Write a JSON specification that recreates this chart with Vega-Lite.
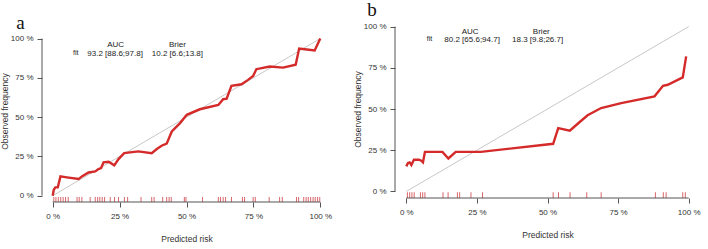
{
  "$schema": "https://vega.github.io/schema/vega-lite/v6.json",
  "padding": {"left": 0, "top": 1, "right": 0, "bottom": 0},
  "spacing": 21,
  "config": {
    "view": {"stroke": null},
    "font": "Liberation Sans",
    "axis": {
      "domain": false,
      "grid": false,
      "ticks": true,
      "tickSize": 5,
      "tickColor": "#555555",
      "labelFont": "Liberation Sans",
      "labelFontSize": 8,
      "labelColor": "#333333",
      "titleFont": "Liberation Sans",
      "titleFontSize": 8.5,
      "titleFontWeight": "normal",
      "titleColor": "#333333",
      "labelExpr": "format(datum.value * 100, 'd') + ' %'"
    },
    "axisX": {"labelPadding": 5, "titlePadding": 14},
    "axisY": {"labelPadding": 4, "titlePadding": 1},
    "title": {"font": "Liberation Serif", "fontWeight": "normal", "fontSize": 19, "anchor": "start", "color": "#111111"}
  },
  "datasets": {
    "diag": [{"x": 0, "y": 0}, {"x": 1, "y": 1}],
    "calA": [
      {"x": 0, "y": 0}, {"x": 0.004, "y": 0.038}, {"x": 0.01, "y": 0.053}, {"x": 0.019, "y": 0.053},
      {"x": 0.029, "y": 0.123}, {"x": 0.053, "y": 0.117}, {"x": 0.097, "y": 0.106}, {"x": 0.109, "y": 0.123},
      {"x": 0.134, "y": 0.148}, {"x": 0.159, "y": 0.155}, {"x": 0.171, "y": 0.17}, {"x": 0.181, "y": 0.176},
      {"x": 0.19, "y": 0.212}, {"x": 0.209, "y": 0.216}, {"x": 0.23, "y": 0.193}, {"x": 0.246, "y": 0.233},
      {"x": 0.267, "y": 0.271}, {"x": 0.32, "y": 0.282}, {"x": 0.37, "y": 0.271}, {"x": 0.389, "y": 0.297},
      {"x": 0.407, "y": 0.318}, {"x": 0.426, "y": 0.331}, {"x": 0.445, "y": 0.409}, {"x": 0.476, "y": 0.462},
      {"x": 0.501, "y": 0.515}, {"x": 0.55, "y": 0.55}, {"x": 0.619, "y": 0.577}, {"x": 0.637, "y": 0.614},
      {"x": 0.65, "y": 0.618}, {"x": 0.668, "y": 0.699}, {"x": 0.706, "y": 0.709}, {"x": 0.73, "y": 0.737},
      {"x": 0.749, "y": 0.762}, {"x": 0.761, "y": 0.805}, {"x": 0.811, "y": 0.822}, {"x": 0.861, "y": 0.815},
      {"x": 0.908, "y": 0.834}, {"x": 0.921, "y": 0.936}, {"x": 0.942, "y": 0.932}, {"x": 0.979, "y": 0.924},
      {"x": 1.0, "y": 1.0}
    ],
    "rugA": [
      {"x": 0.004}, {"x": 0.012}, {"x": 0.021}, {"x": 0.03}, {"x": 0.039}, {"x": 0.048}, {"x": 0.058},
      {"x": 0.091}, {"x": 0.099}, {"x": 0.109}, {"x": 0.14},
      {"x": 0.159}, {"x": 0.168}, {"x": 0.176}, {"x": 0.185}, {"x": 0.194},
      {"x": 0.215}, {"x": 0.231}, {"x": 0.246}, {"x": 0.268}, {"x": 0.28}, {"x": 0.33},
      {"x": 0.37}, {"x": 0.379}, {"x": 0.411}, {"x": 0.426}, {"x": 0.435}, {"x": 0.443},
      {"x": 0.492}, {"x": 0.498}, {"x": 0.56},
      {"x": 0.619}, {"x": 0.627}, {"x": 0.637}, {"x": 0.646}, {"x": 0.668},
      {"x": 0.709}, {"x": 0.717}, {"x": 0.749}, {"x": 0.757}, {"x": 0.809},
      {"x": 0.848}, {"x": 0.858}, {"x": 0.911}, {"x": 0.919},
      {"x": 0.938}, {"x": 0.947}, {"x": 0.955}, {"x": 0.964}, {"x": 0.973}, {"x": 0.981}, {"x": 0.99}, {"x": 0.998}
    ],
    "calB": [
      {"x": 0, "y": 0.152}, {"x": 0.006, "y": 0.172}, {"x": 0.012, "y": 0.176}, {"x": 0.018, "y": 0.16},
      {"x": 0.027, "y": 0.192}, {"x": 0.045, "y": 0.192}, {"x": 0.053, "y": 0.186}, {"x": 0.059, "y": 0.176},
      {"x": 0.066, "y": 0.24}, {"x": 0.128, "y": 0.24}, {"x": 0.149, "y": 0.2}, {"x": 0.175, "y": 0.24},
      {"x": 0.264, "y": 0.24}, {"x": 0.52, "y": 0.289}, {"x": 0.538, "y": 0.384}, {"x": 0.579, "y": 0.368},
      {"x": 0.612, "y": 0.418}, {"x": 0.642, "y": 0.462}, {"x": 0.69, "y": 0.506}, {"x": 0.761, "y": 0.536},
      {"x": 0.879, "y": 0.577}, {"x": 0.909, "y": 0.641}, {"x": 0.926, "y": 0.647}, {"x": 0.979, "y": 0.692},
      {"x": 0.991, "y": 0.819}
    ],
    "rugB": [
      {"x": 0.004}, {"x": 0.012}, {"x": 0.02}, {"x": 0.028}, {"x": 0.05}, {"x": 0.058}, {"x": 0.066},
      {"x": 0.13}, {"x": 0.148}, {"x": 0.181}, {"x": 0.189}, {"x": 0.229}, {"x": 0.27},
      {"x": 0.52}, {"x": 0.539}, {"x": 0.58}, {"x": 0.639}, {"x": 0.69},
      {"x": 0.882}, {"x": 0.91}, {"x": 0.92}, {"x": 0.979}, {"x": 0.988}
    ]
  },
  "hconcat": [
    {
      "width": 289,
      "height": 182,
      "title": {"text": "a", "offset": 0, "dx": 16, "dy": 13},
      "layer": [
        {
          "data": {"name": "diag"},
          "mark": {"type": "line", "color": "#c8c8c8", "strokeWidth": 1},
          "encoding": {
            "x": {"field": "x", "type": "quantitative", "scale": {"domain": [-0.04, 1.04], "nice": false, "zero": false}, "axis": {"title": "Predicted risk", "values": [0, 0.25, 0.5, 0.75, 1]}},
            "y": {"field": "y", "type": "quantitative", "scale": {"domain": [-0.04, 1.118], "nice": false, "zero": false}, "axis": {"title": "Observed frequency", "values": [0, 0.25, 0.5, 0.75, 1]}}
          }
        },
        {
          "data": {"name": "calA"},
          "mark": {"type": "line", "color": "#d42a2a", "strokeWidth": 2.4},
          "encoding": {
            "x": {"field": "x", "type": "quantitative"},
            "y": {"field": "y", "type": "quantitative"}
          }
        },
        {
          "data": {"name": "rugA"},
          "mark": {"type": "rule", "color": "#d9666a", "strokeWidth": 1},
          "encoding": {
            "x": {"field": "x", "type": "quantitative"},
            "y": {"datum": -0.04},
            "y2": {"datum": -0.008}
          }
        },
        {
          "data": {"values": [{}]},
          "mark": {"type": "rule", "color": "#555555", "strokeWidth": 1},
          "encoding": {"x": {"datum": 0}, "x2": {"datum": 1}, "y": {"datum": -0.04}}
        },
        {
          "data": {"values": [{}]},
          "mark": {"type": "rule", "color": "#555555", "strokeWidth": 1},
          "encoding": {"y": {"datum": 0}, "y2": {"datum": 1}, "x": {"datum": -0.04}}
        },
        {
          "data": {"values": [{}]},
          "mark": {"type": "text", "fontSize": 8, "color": "#222222", "align": "center"},
          "encoding": {"x": {"datum": 0.235}, "y": {"datum": 0.962}, "text": {"value": "AUC"}}
        },
        {
          "data": {"values": [{}]},
          "mark": {"type": "text", "fontSize": 8, "color": "#222222", "align": "center"},
          "encoding": {"x": {"datum": 0.466}, "y": {"datum": 0.962}, "text": {"value": "Brier"}}
        },
        {
          "data": {"values": [{}]},
          "mark": {"type": "text", "fontSize": 7, "color": "#222222", "align": "center"},
          "encoding": {"x": {"datum": 0.086}, "y": {"datum": 0.906}, "text": {"value": "fit"}}
        },
        {
          "data": {"values": [{}]},
          "mark": {"type": "text", "fontSize": 8, "color": "#222222", "align": "center"},
          "encoding": {"x": {"datum": 0.233}, "y": {"datum": 0.9}, "text": {"value": "93.2 [88.6;97.8]"}}
        },
        {
          "data": {"values": [{}]},
          "mark": {"type": "text", "fontSize": 8, "color": "#222222", "align": "center"},
          "encoding": {"x": {"datum": 0.466}, "y": {"datum": 0.9}, "text": {"value": "10.2 [6.6;13.8]"}}
        }
      ]
    },
    {
      "width": 305,
      "height": 178,
      "title": {"text": "b", "offset": 0, "dx": 14},
      "layer": [
        {
          "data": {"name": "diag"},
          "mark": {"type": "line", "color": "#c8c8c8", "strokeWidth": 1},
          "encoding": {
            "x": {"field": "x", "type": "quantitative", "scale": {"domain": [-0.04, 1.04], "nice": false, "zero": false}, "axis": {"title": "Predicted risk", "values": [0, 0.25, 0.5, 0.75, 1]}},
            "y": {"field": "y", "type": "quantitative", "scale": {"domain": [-0.04, 1.04], "nice": false, "zero": false}, "axis": {"title": "Observed frequency", "values": [0, 0.25, 0.5, 0.75, 1]}}
          }
        },
        {
          "data": {"name": "calB"},
          "mark": {"type": "line", "color": "#d42a2a", "strokeWidth": 2.4},
          "encoding": {
            "x": {"field": "x", "type": "quantitative"},
            "y": {"field": "y", "type": "quantitative"}
          }
        },
        {
          "data": {"name": "rugB"},
          "mark": {"type": "rule", "color": "#d9666a", "strokeWidth": 1},
          "encoding": {
            "x": {"field": "x", "type": "quantitative"},
            "y": {"datum": -0.04},
            "y2": {"datum": -0.005}
          }
        },
        {
          "data": {"values": [{}]},
          "mark": {"type": "rule", "color": "#555555", "strokeWidth": 1},
          "encoding": {"x": {"datum": 0}, "x2": {"datum": 1}, "y": {"datum": -0.04}}
        },
        {
          "data": {"values": [{}]},
          "mark": {"type": "rule", "color": "#555555", "strokeWidth": 1},
          "encoding": {"y": {"datum": 0}, "y2": {"datum": 1}, "x": {"datum": -0.04}}
        },
        {
          "data": {"values": [{}]},
          "mark": {"type": "text", "fontSize": 8, "color": "#222222", "align": "center"},
          "encoding": {"x": {"datum": 0.226}, "y": {"datum": 0.97}, "text": {"value": "AUC"}}
        },
        {
          "data": {"values": [{}]},
          "mark": {"type": "text", "fontSize": 8, "color": "#222222", "align": "center"},
          "encoding": {"x": {"datum": 0.478}, "y": {"datum": 0.97}, "text": {"value": "Brier"}}
        },
        {
          "data": {"values": [{}]},
          "mark": {"type": "text", "fontSize": 7, "color": "#222222", "align": "center"},
          "encoding": {"x": {"datum": 0.082}, "y": {"datum": 0.922}, "text": {"value": "fit"}}
        },
        {
          "data": {"values": [{}]},
          "mark": {"type": "text", "fontSize": 8, "color": "#222222", "align": "center"},
          "encoding": {"x": {"datum": 0.233}, "y": {"datum": 0.917}, "text": {"value": "80.2 [65.6;94.7]"}}
        },
        {
          "data": {"values": [{}]},
          "mark": {"type": "text", "fontSize": 8, "color": "#222222", "align": "center"},
          "encoding": {"x": {"datum": 0.465}, "y": {"datum": 0.917}, "text": {"value": "18.3 [9.8;26.7]"}}
        }
      ]
    }
  ]
}
